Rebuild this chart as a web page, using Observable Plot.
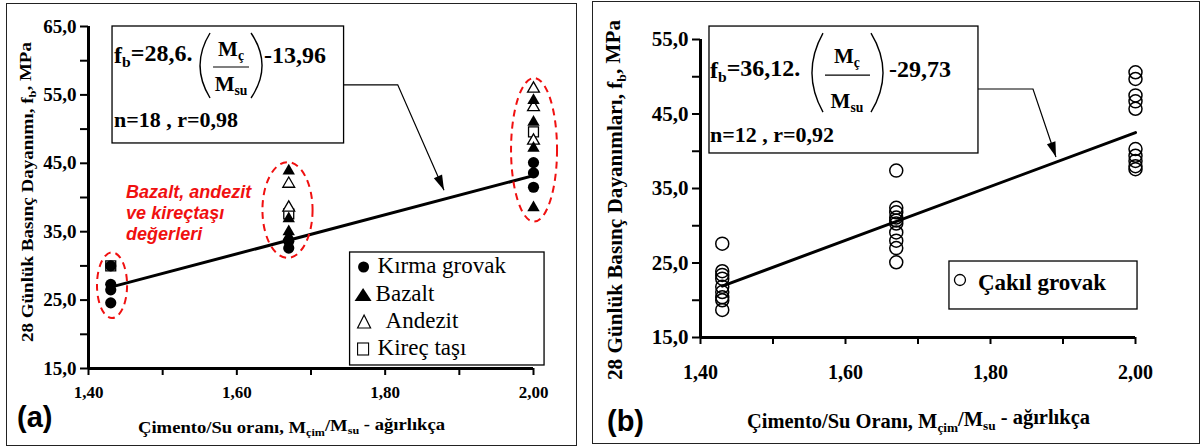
<!DOCTYPE html>
<html><head><meta charset="utf-8">
<script src="https://cdn.jsdelivr.net/npm/d3@7"></script>
<script src="https://cdn.jsdelivr.net/npm/@observablehq/plot@0.6"></script>
<style>
body{margin:0;background:#fff;width:1203px;height:448px;overflow:hidden;position:relative;}
.panel{position:absolute;width:640px;}
.border{position:absolute;border:1.5px solid #222;box-sizing:border-box;}
svg text{font-family:"Liberation Serif","Times New Roman",serif;}
svg{max-width:none !important;}
</style></head><body>
<div class="border" style="left:6px;top:3px;width:571px;height:443px"></div>
<div class="border" style="left:592px;top:1px;width:608px;height:443px"></div>
<div id="a" class="panel" style="left:0;top:0"></div>
<div id="b" class="panel" style="left:590px;top:0"></div>
<script>
// ---- tick labels ----
const xTicks = [1.40, 1.60, 1.80, 2.00];
const xMinor = [1.50, 1.70, 1.90];
const yTicksA = [15, 25, 35, 45, 55, 65];
const yMinorA = [20, 30, 40, 50, 60];
const yTicksB = [15, 25, 35, 45, 55];
const yMinorB = [20, 30, 40, 50];

// ---- panel (a) series ----
const kirmaX  = [1.43, 1.43, 1.43, 1.43, 1.67, 1.67, 2.00, 2.00, 2.00];
const kirmaY  = [30.0, 27.3, 26.5, 24.6, 33.6, 32.6, 45.1, 43.6, 41.5];
const bazaltX = [1.67, 1.67, 1.67, 1.67, 2.00, 2.00, 2.00, 2.00];
const bazaltY = [43.9, 36.9, 35.0, 34.3, 54.2, 51.0, 47.2, 38.5];
const andezitX = [1.67, 1.67, 2.00, 2.00, 2.00];
const andezitY = [42.0, 38.5, 55.9, 53.2, 48.3];
const kirecX  = [1.43, 1.67, 2.00];
const kirecY  = [30.0, 37.6, 49.6];
const fitAX = [1.43, 2.00];
const fitAY = [26.9, 43.2];

// ---- panel (b) series ----
const cakilX = [1.43,1.43,1.43,1.43,1.43,1.43,1.43,1.43,1.43,
                1.67,1.67,1.67,1.67,1.67,1.67,1.67,1.67,1.67,1.67,
                2.00,2.00,2.00,2.00,2.00,2.00,2.00,2.00,2.00,2.00];
const cakilY = [27.6,23.9,23.4,22.9,21.8,21.1,20.4,20.0,18.7,
                37.4,32.4,31.8,31.1,30.7,30.3,29.1,28.0,27.0,25.1,
                50.6,49.7,47.5,46.7,45.7,40.3,39.4,38.7,38.0,37.6];
const fitBX = [1.43, 2.00];
const fitBY = [21.9, 42.5];

// ---- annotation anchors (data units) ----
const ellCx = [1.4324, 1.669, 2.0014];
const ellCy = [27.1, 38.1, 46.9];
const ellRx = [0.0203, 0.0338, 0.031];
const ellRy = [4.8, 7.0, 10.5];
const boxA = [1.4324, 1.7446, 47.9, 65.0];
const boxB = [1.4124, 1.7834, 39.7, 56.74];
const arrowAX = [1.7446, 1.8176, 1.880], arrowAY = [56.4, 56.4, 41.0];
const arrowBX = [1.7834, 1.8593, 1.891], arrowBY = [48.29, 48.29, 39.16];
const legA = [1.7527, 2.0149, 15.44, 31.96];
const legB = [1.7434, 2.0028, 18.76, 25.2];
const noteA = [1.4514, 40.0];

const toTable = (xs, ys) => xs.map((x, i) => ({x, y: ys[i]}));
const fmt1 = d => d.toFixed(1).replace(".", ",");
const fmt2 = d => d.toFixed(2).replace(".", ",");
const SERIF = "Liberation Serif";

function axes(yT, yM, fsY, fsX, padX) {
  return [
    Plot.axisY({ticks: yT, tickFormat: fmt1, tickSize: 8, tickPadding: 4, strokeWidth: 2, label: null,
                fontSize: fsY, fontWeight: "bold", fontFamily: SERIF}),
    Plot.axisY({ticks: yM, tickFormat: () => "", tickSize: 8, strokeWidth: 2, label: null}),
    Plot.axisX({ticks: xTicks, tickFormat: fmt2, tickSize: 7, tickPadding: padX, strokeWidth: 2, label: null,
                fontSize: fsX, fontWeight: "bold", fontFamily: SERIF}),
    Plot.axisX({ticks: xMinor, tickFormat: () => "", tickSize: 7, strokeWidth: 2, label: null})
  ];
}

const plotA = Plot.plot({
  width: 580, height: 448,
  marginLeft: 88, marginRight: 47, marginTop: 26, marginBottom: 80,
  x: {domain: [1.4, 2.0]}, y: {domain: [15, 65]},
  style: {background: "transparent", overflow: "visible", fontFamily: SERIF, fontWeight: "bold", fontSize: "19px"},
  marks: [
    ...axes(yTicksA, yMinorA, 19, 17, 10),
    Plot.ruleX([1.4], {y1: 15, y2: 65, strokeWidth: 3}),
    Plot.ruleY([15], {x1: 1.4, x2: 2.0, strokeWidth: 3}),
    Plot.line(toTable(fitAX, fitAY), {x: "x", y: "y", strokeWidth: 3}),
    Plot.dot(toTable(kirecX, kirecY), {x: "x", y: "y", symbol: "square", r: 5.6, fill: "white", stroke: "black", strokeWidth: 1.3}),
    Plot.dot(toTable(andezitX, andezitY), {x: "x", y: "y", symbol: "triangle", r: 4.4, fill: "white", stroke: "black", strokeWidth: 1.3}),
    Plot.dot(toTable(bazaltX, bazaltY), {x: "x", y: "y", symbol: "triangle", r: 4.6, fill: "black"}),
    Plot.dot(toTable(kirmaX, kirmaY), {x: "x", y: "y", symbol: "circle", r: 5.6, fill: "black"})
  ]
});

const plotB = Plot.plot({
  width: 613, height: 448,
  marginLeft: 110, marginRight: 68, marginTop: 39, marginBottom: 111,
  x: {domain: [1.4, 2.0]}, y: {domain: [15, 55]},
  style: {background: "transparent", overflow: "visible", fontFamily: SERIF, fontWeight: "bold", fontSize: "21px"},
  marks: [
    ...axes(yTicksB, yMinorB, 21, 20, 20),
    Plot.ruleX([1.4], {y1: 15, y2: 55, strokeWidth: 3}),
    Plot.ruleY([15], {x1: 1.4, x2: 2.0, strokeWidth: 3}),
    Plot.line(toTable(fitBX, fitBY), {x: "x", y: "y", strokeWidth: 3}),
    Plot.dot(toTable(cakilX, cakilY), {x: "x", y: "y", r: 6.5, fill: "none", stroke: "black", strokeWidth: 1.5})
  ]
});

document.getElementById("a").appendChild(plotA);
document.getElementById("b").appendChild(plotB);

// ---- helpers ----
function addText(g, x, y, parts, o = {}) {
  const t = g.append("text").attr("x", x).attr("y", y)
    .attr("font-size", o.size || 16)
    .attr("font-weight", o.weight || "bold")
    .attr("text-anchor", o.anchor || "start")
    .attr("fill", o.fill || "black");
  if (o.family) t.style("font-family", o.family);
  if (o.style) t.attr("font-style", o.style);
  if (o.transform) t.attr("transform", o.transform);
  if (o.len) t.attr("textLength", o.len).attr("lengthAdjust", "spacingAndGlyphs");
  let sub = false;
  for (const p of parts) {
    const isSub = Array.isArray(p);
    const s = isSub ? p[0] : p;
    const ts = t.append("tspan").text(s);
    if (isSub && !sub) { ts.attr("dy", "0.28em").attr("font-size", "0.65em"); sub = true; }
    else if (isSub) { ts.attr("font-size", "0.65em"); }
    else if (sub) { ts.attr("dy", "-0.28em"); sub = false; }
  }
  return t;
}

function arrow(g, X, Y, xs, ys) {
  const pts = xs.map((x, i) => [X(x), Y(ys[i])]);
  g.append("polyline").attr("points", pts.map(p => p.join(",")).join(" "))
    .attr("fill", "none").attr("stroke", "black").attr("stroke-width", 1.2);
  const [p0, p1] = pts.slice(-2);
  const dx = p1[0] - p0[0], dy = p1[1] - p0[1], L = Math.hypot(dx, dy);
  const ux = dx / L, uy = dy / L, hl = 15, hw = 4.5;
  const bx = p1[0] - ux * hl, by = p1[1] - uy * hl;
  g.append("polygon").attr("points", [
    [p1[0], p1[1]], [bx - uy * hw, by + ux * hw], [bx + uy * hw, by - ux * hw]
  ].map(p => p.join(",")).join(" ")).attr("fill", "black");
}

function box(g, X, Y, b, sw) {
  const x = X(b[0]), y = Y(b[3]);
  g.append("rect").attr("x", x).attr("y", y)
    .attr("width", X(b[1]) - x).attr("height", Y(b[2]) - y)
    .attr("fill", "white").attr("stroke", "black").attr("stroke-width", sw || 1.3);
  return [x, y];
}

function paren(g, x0, y0, x1, y1, xm) {
  const cx = (4 * xm - 2 * x0) / 2;
  g.append("path").attr("d", `M${x0},${y0} Q${cx},${(y0 + y1) / 2} ${x1},${y1}`)
    .attr("fill", "none").attr("stroke", "black").attr("stroke-width", 1.4);
}

// ---- panel (a) annotations ----
{
  const svg = d3.select(plotA);
  const X = v => plotA.scale("x").apply(v), Y = v => plotA.scale("y").apply(v);
  const g = svg.append("g");
  ellCx.forEach((cx, i) => {
    g.append("ellipse").attr("cx", X(cx)).attr("cy", Y(ellCy[i]))
      .attr("rx", X(cx + ellRx[i]) - X(cx)).attr("ry", Y(ellCy[i]) - Y(ellCy[i] + ellRy[i]))
      .attr("fill", "none").attr("stroke", "#f01010").attr("stroke-width", 2).attr("stroke-dasharray", "7,5");
  });
  const [bx, by] = box(g, X, Y, boxA);
  addText(g, bx + 2, by + 37, ["f", ["b"], "=28,6."], {size: 24});
  paren(g, bx + 98, by + 7, bx + 98, by + 72, bx + 88);
  paren(g, bx + 139, by + 7, bx + 139, by + 72, bx + 150);
  addText(g, bx + 119, by + 30, ["M", ["ç"]], {size: 21, anchor: "middle"});
  g.append("line").attr("x1", bx + 101).attr("x2", bx + 137).attr("y1", by + 41).attr("y2", by + 41)
    .attr("stroke", "black").attr("stroke-width", 1.2);
  addText(g, bx + 119, by + 65, ["M", ["su"]], {size: 21, anchor: "middle"});
  addText(g, bx + 152, by + 37, ["-13,96"], {size: 24});
  addText(g, bx + 2, by + 101, ["n=18 , r=0,98"], {size: 22});
  arrow(g, X, Y, arrowAX, arrowAY);
  const nx = X(noteA[0]);
  ["Bazalt, andezit", "ve kireçtaşı", "değerleri"].forEach((s, i) => {
    addText(g, nx, 198 + i * 21, [s], {size: 18, family: "Liberation Sans, Arial, sans-serif", style: "italic", fill: "#f01010"});
  });
  const [lx, ly] = box(g, X, Y, legA);
  g.append("circle").attr("cx", lx + 14).attr("cy", ly + 15).attr("r", 5.5).attr("fill", "black");
  g.append("polygon").attr("points", `${lx + 5},${ly + 49} ${lx + 22},${ly + 49} ${lx + 13.5},${ly + 36}`).attr("fill", "black");
  g.append("polygon").attr("points", `${lx + 8},${ly + 76} ${lx + 21},${ly + 76} ${lx + 14.5},${ly + 63}`)
    .attr("fill", "none").attr("stroke", "black").attr("stroke-width", 1.2);
  g.append("rect").attr("x", lx + 8).attr("y", ly + 91).attr("width", 11).attr("height", 12)
    .attr("fill", "none").attr("stroke", "black").attr("stroke-width", 1.1);
  [["Kırma grovak", 28, 21], ["Bazalt", 26, 49], ["Andezit", 36, 76], ["Kireç taşı", 28, 103]].forEach(([s, dx, dy]) => {
    addText(g, lx + dx, ly + dy, [s], {size: 23, weight: "normal"});
  });
  addText(g, 33, 192, ["28 Günlük Basınç Dayanımı, f", ["b"], ", MPa"], {size: 17, anchor: "middle", transform: "rotate(-90 33 192)", len: 300});
  addText(g, 138, 433, ["Çimento/Su oranı, M", ["çim"], "/M", ["su"], " - ağırlıkça"], {size: 16.5, len: 307});
  addText(g, 17, 427, ["(a)"], {size: 29, family: "Liberation Sans, Arial, sans-serif"});
}

// ---- panel (b) annotations ----
{
  const svg = d3.select(plotB);
  const X = v => plotB.scale("x").apply(v), Y = v => plotB.scale("y").apply(v);
  const g = svg.append("g");
  const [bx, by] = box(g, X, Y, boxB);
  addText(g, bx + 1, by + 52, ["f", ["b"], "=36,12."], {size: 24});
  paren(g, bx + 114, by + 7, bx + 114, by + 86, bx + 103);
  paren(g, bx + 162, by + 7, bx + 162, by + 86, bx + 174);
  addText(g, bx + 138, by + 37, ["M", ["ç"]], {size: 21, anchor: "middle"});
  g.append("line").attr("x1", bx + 116).attr("x2", bx + 161).attr("y1", by + 49).attr("y2", by + 49)
    .attr("stroke", "black").attr("stroke-width", 1.2);
  addText(g, bx + 138, by + 82, ["M", ["su"]], {size: 21, anchor: "middle"});
  addText(g, bx + 180, by + 51, ["-29,73"], {size: 24});
  addText(g, bx + 1, by + 116, ["n=12 , r=0,92"], {size: 22});
  arrow(g, X, Y, arrowBX, arrowBY);
  const [lx, ly] = box(g, X, Y, legB);
  g.append("circle").attr("cx", lx + 11).attr("cy", ly + 19).attr("r", 5.5)
    .attr("fill", "none").attr("stroke", "black").attr("stroke-width", 1.3);
  addText(g, lx + 29, ly + 29, ["Çakıl grovak"], {size: 23});
  addText(g, 32, 200, ["28 Günlük Basınç Dayanımları, f", ["b"], ", MPa"], {size: 20, anchor: "middle", transform: "rotate(-90 32 200)", len: 360});
  addText(g, 157, 428, ["Çimento/Su Oranı, M", ["çim"], "/M", ["su"], " - ağırlıkça"], {size: 20, len: 343});
  addText(g, 17, 431, ["(b)"], {size: 29, family: "Liberation Sans, Arial, sans-serif"});
}
</script>
</body></html>
